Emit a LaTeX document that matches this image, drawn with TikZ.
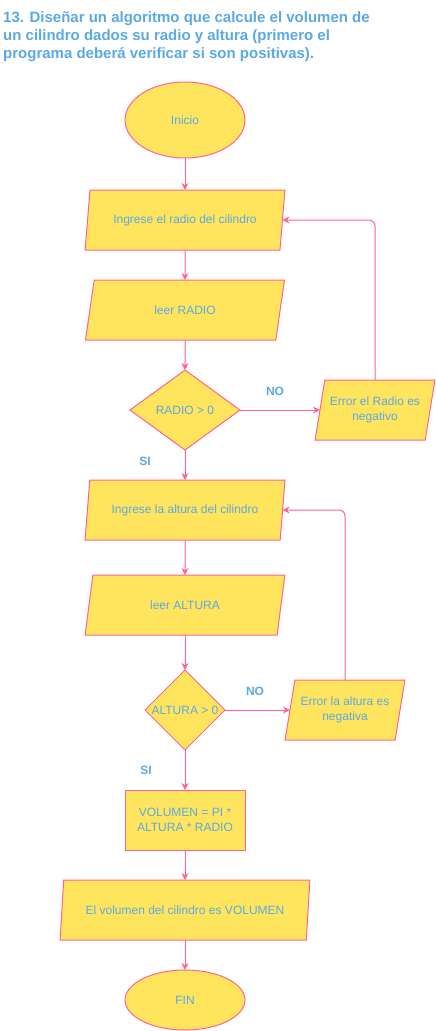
\documentclass[tikz,border=0pt]{standalone}
\usepackage{fontspec}
\setmainfont{Liberation Sans}
\usetikzlibrary{shapes.geometric,arrows.meta}
\definecolor{boxfill}{HTML}{FFE45E}
\definecolor{boxline}{HTML}{FF6392}
\definecolor{labelblue}{HTML}{5AA9E6}
\begin{document}
\begin{tikzpicture}[x=1pt,y=-1pt,
  base/.style={draw=boxline, fill=boxfill, line width=1pt, text=labelblue,
    font=\fontsize{12}{15}\selectfont, align=center, inner sep=0pt, outer sep=0pt},
  term/.style={base, ellipse, minimum width=120pt},
  io/.style={base, trapezium, trapezium left angle=71.57, trapezium right angle=108.43,
    trapezium stretches=true, minimum height=60pt},
  decision/.style={base, diamond},
  process/.style={base, rectangle, minimum width=120pt, minimum height=60pt},
  every label/.style={text=labelblue, font=\fontsize{12}{15}\selectfont},
  flow/.style={draw=boxline, line width=1pt, -{Stealth[length=7pt,width=7pt]}},
  back/.style={flow, rounded corners=6pt},
  tag/.style={text=labelblue, font=\bfseries\fontsize{12}{14}\selectfont, inner sep=0pt}]
\useasboundingbox (0,0) rectangle (436,1031);

% heading
\node[anchor=north west, inner sep=0pt, align=left, text=labelblue,
  font=\bfseries\fontsize{15}{18}\selectfont] (title) at (3,11)
  {13. Diseñar un algoritmo que calcule el volumen de\\
   un cilindro dados su radio y altura (primero el\\
   programa deberá verificar si son positivas).};

% flowchart nodes
\node[term, minimum height=76pt] (inicio) at (185,120) {Inicio};
\node[io, minimum width=200pt] (pr) at (185,220) {Ingrese el radio del cilindro};
\node[io, minimum width=200pt] (lr) at (185,310) {leer RADIO};
\node[decision, minimum width=110pt, minimum height=80pt, label=center:{RADIO > 0}] (dr) at (185,410) {};
\node[io, minimum width=120pt] (er) at (375,410) {Error el Radio es\\negativo};
\node[io, minimum width=200pt] (pa) at (185,510) {Ingrese la altura del cilindro};
\node[io, minimum width=200pt] (la) at (185,605) {leer ALTURA};
\node[decision, minimum width=80pt, minimum height=80pt, label=center:{ALTURA > 0}] (da) at (185,710) {};
\node[io, minimum width=120pt] (ea) at (345,710) {Error la altura es\\negativa};
\node[process] (calc) at (185,820) {VOLUMEN = PI *\\ALTURA * RADIO};
\node[io, minimum width=250pt] (out) at (185,910) {El volumen del cilindro es VOLUMEN};
\node[term, minimum height=60pt] (fin) at (185,1000) {FIN};

% branch tags
\node[tag] (no1) at (275,391) {NO};
\node[tag] (si1) at (145,461) {SI};
\node[tag] (no2) at (255,691) {NO};
\node[tag] (si2) at (146,770) {SI};

% connectors
\draw[flow] (inicio) -- (pr);
\draw[flow] (pr) -- (lr);
\draw[flow] (lr) -- (dr);
\draw[flow] (dr) -- (er);
\draw[back] (er.north) |- (pr.east);
\draw[flow] (dr) -- (pa);
\draw[flow] (pa) -- (la);
\draw[flow] (la) -- (da);
\draw[flow] (da) -- (ea);
\draw[back] (ea.north) |- (pa.east);
\draw[flow] (da) -- (calc);
\draw[flow] (calc) -- (out);
\draw[flow] (out) -- (fin);
\end{tikzpicture}
\end{document}
